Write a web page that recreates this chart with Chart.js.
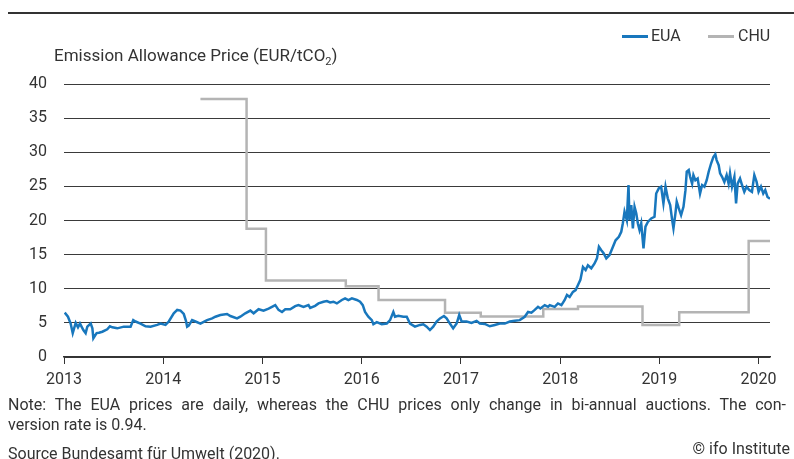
<!DOCTYPE html>
<html>
<head>
<meta charset="utf-8">
<script src="https://cdn.jsdelivr.net/npm/chart.js@4/dist/chart.umd.min.js"></script>
<style>
  body { margin: 0; background: #fff; }
  #wrap { position: relative; width: 794px; height: 459px; overflow: hidden; font-family: Roboto, sans-serif; color: #333; }
  #chart { position: absolute; left: 0; top: 0; }
  .txt { position: absolute; white-space: nowrap; font-size: 16px; line-height: 18px; }
  #rule { position: absolute; left: 8px; right: 0; top: 12px; height: 2px; background: #333; }
  .key { position: absolute; top: 35px; height: 2.5px; width: 26px; }
  #note1 { position: absolute; left: 8px; top: 396px; width: 778px; font-size: 16px; line-height: 18px; text-align: justify; text-align-last: justify; }
</style>
</head>
<body>
<div id="wrap">
  <canvas id="chart" width="794" height="459"></canvas>
  <div id="rule"></div>
  <div class="key" style="left:622px; background:#1877bd"></div>
  <div class="txt" style="left:651px; top:27px">EUA</div>
  <div class="key" style="left:708px; background:#b4b4b4"></div>
  <div class="txt" style="left:738px; top:27px">CHU</div>
  <div class="txt" style="left:54px; top:46px; font-size:17px">Emission Allowance Price (EUR/tCO<sub style="font-size:11px">2</sub>)</div>
  <div id="note1">Note: The EUA prices are daily, whereas the CHU prices only change in bi-annual auctions. The con-</div>
  <div class="txt" style="left:8px; top:416px">version rate is 0.94.</div>
  <div class="txt" style="left:8px; top:445px">Source Bundesamt für Umwelt (2020).</div>
  <div class="txt" style="right:4px; top:440px">© ifo Institute</div>
</div>
<script>
// EUA daily price (decimal year, EUR/tCO2)
const euaYears = [
  2013.007, 2013.040, 2013.067, 2013.088, 2013.118, 2013.141, 2013.161, 2013.195, 2013.218, 2013.235,
  2013.269, 2013.286, 2013.296, 2013.329, 2013.352, 2013.386, 2013.436, 2013.463, 2013.487, 2013.537,
  2013.603, 2013.671, 2013.698, 2013.721, 2013.771, 2013.822, 2013.872, 2013.939, 2013.973, 2014.023,
  2014.056, 2014.106, 2014.141, 2014.174, 2014.207, 2014.229, 2014.241, 2014.257, 2014.291, 2014.325,
  2014.375, 2014.408, 2014.442, 2014.493, 2014.526, 2014.576, 2014.643, 2014.677, 2014.744, 2014.777,
  2014.827, 2014.878, 2014.911, 2014.961, 2015.011, 2015.062, 2015.096, 2015.129, 2015.162, 2015.197,
  2015.230, 2015.280, 2015.330, 2015.363, 2015.414, 2015.464, 2015.481, 2015.531, 2015.565, 2015.615,
  2015.649, 2015.682, 2015.715, 2015.750, 2015.800, 2015.833, 2015.866, 2015.901, 2015.951, 2015.984,
  2016.011, 2016.034, 2016.067, 2016.102, 2016.118, 2016.152, 2016.202, 2016.253, 2016.286, 2016.319,
  2016.336, 2016.369, 2016.420, 2016.454, 2016.487, 2016.537, 2016.587, 2016.621, 2016.655, 2016.688,
  2016.721, 2016.755, 2016.789, 2016.829, 2016.856, 2016.889, 2016.922, 2016.957, 2016.983, 2017.007,
  2017.057, 2017.107, 2017.158, 2017.191, 2017.241, 2017.291, 2017.342, 2017.392, 2017.442, 2017.493,
  2017.543, 2017.593, 2017.643, 2017.677, 2017.711, 2017.744, 2017.777, 2017.801, 2017.845, 2017.878,
  2017.895, 2017.945, 2017.978, 2018.013, 2018.046, 2018.069, 2018.096, 2018.129, 2018.156, 2018.180,
  2018.204, 2018.230, 2018.257, 2018.280, 2018.314, 2018.347, 2018.371, 2018.391, 2018.415, 2018.438,
  2018.465, 2018.498, 2018.525, 2018.559, 2018.592, 2018.616, 2018.632, 2018.649, 2018.672, 2018.689,
  2018.699, 2018.717, 2018.733, 2018.750, 2018.767, 2018.783, 2018.800, 2018.817, 2018.840, 2018.860,
  2018.884, 2018.918, 2018.951, 2018.968, 2018.994, 2019.018, 2019.041, 2019.062, 2019.085, 2019.109,
  2019.129, 2019.142, 2019.162, 2019.175, 2019.195, 2019.219, 2019.243, 2019.263, 2019.276, 2019.296,
  2019.310, 2019.330, 2019.343, 2019.363, 2019.386, 2019.410, 2019.431, 2019.454, 2019.477, 2019.497,
  2019.521, 2019.544, 2019.564, 2019.577, 2019.598, 2019.612, 2019.632, 2019.655, 2019.678, 2019.698,
  2019.712, 2019.732, 2019.756, 2019.773, 2019.789, 2019.813, 2019.833, 2019.856, 2019.879, 2019.906,
  2019.933, 2019.957, 2019.980, 2020.000, 2020.024, 2020.047, 2020.067, 2020.090, 2020.115
];
const euaPrices = [
  6.5, 5.9, 4.9, 3.5, 5.0, 4.35, 4.9, 3.95, 3.5, 4.45,
  4.9, 4.2, 2.75, 3.5, 3.55, 3.7, 4.05, 4.5, 4.35, 4.2,
  4.45, 4.45, 5.4, 5.2, 4.9, 4.5, 4.45, 4.7, 4.9, 4.7,
  5.2, 6.4, 6.9, 6.8, 6.3, 5.3, 4.45, 4.6, 5.4, 5.2,
  4.9, 5.15, 5.4, 5.65, 5.9, 6.15, 6.3, 6.0, 5.65, 5.9,
  6.4, 6.8, 6.4, 7.0, 6.8, 7.1, 7.35, 7.6, 6.9, 6.6,
  7.0, 7.0, 7.45, 7.6, 7.35, 7.6, 7.2, 7.5, 7.85, 8.1,
  8.2, 8.0, 8.1, 7.85, 8.35, 8.6, 8.35, 8.6, 8.35, 8.1,
  7.6, 6.6, 5.9, 5.4, 4.8, 5.1, 4.8, 4.9, 5.4, 6.6,
  5.9, 6.05, 5.9, 5.9, 4.9, 4.45, 4.7, 4.8, 4.45, 3.95,
  4.45, 5.2, 5.65, 6.0, 5.65, 4.9, 4.2, 4.9, 6.15, 5.2,
  5.2, 5.0, 5.3, 4.9, 4.85, 4.5, 4.7, 4.9, 4.9, 5.2,
  5.3, 5.4, 5.9, 6.6, 6.5, 6.9, 7.35, 7.1, 7.6, 7.35,
  7.6, 7.35, 7.85, 7.6, 8.35, 9.1, 8.8, 9.55, 9.8, 10.55,
  11.3, 13.2, 12.75, 13.45, 13.0, 13.7, 14.45, 16.15, 15.65, 15.2,
  14.45, 14.95, 15.9, 17.1, 17.6, 18.35, 19.6, 21.3, 20.05, 25.2,
  20.05, 22.25, 18.85, 22.0, 21.05, 19.6, 18.6, 19.6, 15.9, 19.1,
  19.8, 20.3, 20.55, 23.95, 24.7, 24.95, 22.5, 24.95, 23.25, 22.25,
  20.05, 18.85, 21.05, 22.75, 21.8, 20.8, 22.0, 24.45, 27.15, 27.4,
  26.4, 25.4, 26.65, 25.9, 26.15, 23.95, 25.2, 24.95, 25.9, 27.15,
  28.35, 29.3, 29.7, 28.85, 28.1, 26.9, 26.4, 25.65, 26.65, 25.4,
  26.9, 24.95, 26.4, 22.5, 25.4, 26.15, 25.2, 24.2, 24.95, 24.45,
  24.2, 26.65, 25.65, 24.2, 24.95, 23.95, 24.45, 23.45, 23.2
];

// CHU auction price, changes twice a year
const chuYears = [2014.375, 2014.84, 2015.035, 2015.84, 2016.17, 2016.84, 2017.2, 2017.83, 2018.18, 2018.83, 2019.2, 2019.9, 2020.115];
const chuPrices = [37.8, 18.8, 11.2, 10.35, 8.35, 6.5, 5.95, 7.05, 7.4, 4.7, 6.55, 17.0, 17.0];

const yearTicks = [2013, 2014, 2015, 2016, 2017, 2018, 2019, 2020];

const ctx = document.getElementById('chart');
const font = { family: 'Roboto, sans-serif', size: 16 };

new Chart(ctx, {
  type: 'line',
  data: {
    datasets: [
      {
        label: 'EUA',
        data: euaYears.map((x, i) => ({ x: x, y: euaPrices[i] })),
        borderColor: '#1877bd',
        borderWidth: 2.5,
        pointRadius: 0,
        order: 0
      },
      {
        label: 'CHU',
        data: chuYears.map((x, i) => ({ x: x, y: chuPrices[i] })),
        borderColor: '#b4b4b4',
        borderWidth: 2.5,
        pointRadius: 0,
        stepped: 'before',
        order: 1
      }
    ]
  },
  options: {
    responsive: false,
    animation: false,
    devicePixelRatio: 1,
    layout: { padding: { left: 0, right: 24, top: 84, bottom: 0 } },
    plugins: { legend: { display: false }, tooltip: { enabled: false } },
    scales: {
      x: {
        type: 'linear',
        min: 2013,
        max: 2020.115,
        afterBuildTicks: (scale) => { scale.ticks = yearTicks.map(v => ({ value: v })); },
        afterFit: (scale) => { scale.height = 102; },
        ticks: { font: font, color: '#333', padding: 6, maxRotation: 0, callback: (v) => String(v) },
        grid: { drawOnChartArea: false, drawTicks: true, tickLength: 7, color: '#333' },
        border: { display: true, color: '#333', width: 1.5 }
      },
      y: {
        min: 0,
        max: 40,
        afterFit: (scale) => { scale.width = 64; },
        ticks: { stepSize: 5, font: font, color: '#333', padding: 17 },
        grid: { color: '#3a3a3a', lineWidth: 1, drawTicks: false },
        border: { display: false }
      }
    }
  }
});
</script>
</body>
</html>
